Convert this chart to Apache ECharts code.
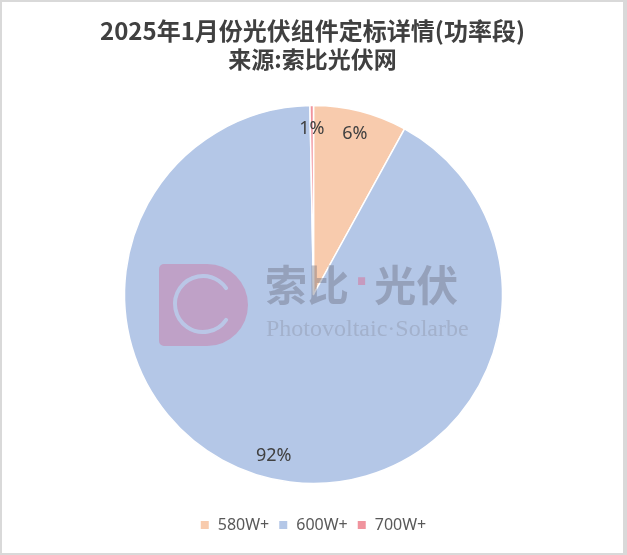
<!DOCTYPE html>
<html>
<head>
<meta charset="utf-8">
<script src="https://cdn.jsdelivr.net/npm/echarts@6/dist/echarts.min.js"></script>
<style>
  html, body { margin: 0; padding: 0; background: #d9d9d9; }
  #chart { position: absolute; left: 2px; top: 2px; width: 621px; height: 551px; background: #ffffff; }
</style>
</head>
<body>
<div id="chart"></div>
<script>
// Data
var categories = ['580W+', '600W+', '700W+'];
var sliceValues = [8.0, 91.7, 0.3];          // slice sizes as drawn
var labelTexts = ['6%', '92%', '1%'];          // percentage labels as printed
var colors = ['#f8cbad', '#b4c7e7', '#f0949e'];
var titleText = '2025年1月份光伏组件定标详情(功率段)';
var subtitleText = '来源:索比光伏网';

var pieData = categories.map(function (c, i) {
  return { name: c, value: sliceValues[i], itemStyle: { color: colors[i] } };
});
var labelData = categories.map(function (c, i) {
  return { name: c, value: sliceValues[i], labelText: labelTexts[i] };
});

var chart = echarts.init(document.getElementById('chart'), null, { renderer: 'canvas' });
var cx = 311.5, cy = 292.5, R = 189;
var wmFill = 'rgba(205,115,160,0.45)';

chart.setOption({
  animation: false,
  title: {
    text: titleText,
    subtext: subtitleText,
    left: 'center',
    top: 12,
    itemGap: 5,
    textStyle: { fontFamily: 'Noto Sans CJK SC', fontSize: 24, fontWeight: 'bold', color: '#404040' },
    subtextStyle: { fontFamily: 'Noto Sans CJK SC', fontSize: 23, fontWeight: 'bold', color: '#404040' }
  },
  legend: {
    data: categories,
    bottom: 15,
    left: 'center',
    itemWidth: 10,
    itemHeight: 10,
    itemGap: 8,
    icon: 'rect',
    textStyle: { fontFamily: 'Noto Sans', fontSize: 16, color: '#595959', padding: [0, 0, 0, 3] }
  },
  series: [
    {
      type: 'pie',
      center: [cx, cy],
      radius: [0, R],
      startAngle: 90,
      clockwise: true,
      data: pieData,
      label: { show: false },
      labelLine: { show: false },
      itemStyle: { borderColor: '#ffffff', borderWidth: 1.5 },
      emphasis: { disabled: true }
    },
    {
      type: 'pie',
      center: [cx, cy],
      radius: [R - 52, R],
      startAngle: 90,
      clockwise: true,
      silent: true,
      legendHoverLink: false,
      data: labelData,
      itemStyle: { color: 'rgba(0,0,0,0)' },
      label: {
        show: true,
        position: 'inside',
        fontFamily: 'Noto Sans',
        fontSize: 18,
        color: '#404040',
        formatter: function (p) { return p.data.labelText; }
      },
      labelLine: { show: false },
      emphasis: { disabled: true },
      z: 3
    }
  ],
  graphic: {
    elements: [
      { type: 'rect', z: 100, silent: true,
        shape: { x: 157, y: 262, width: 89, height: 82, r: [5, 41, 41, 5] },
        style: { fill: wmFill } },
      { type: 'arc', z: 101, silent: true,
        shape: { cx: 201, cy: 302, r: 28, startAngle: 0.6, endAngle: 2 * Math.PI - 0.6, clockwise: true },
        style: { stroke: 'rgba(185,200,232,0.95)', lineWidth: 4, fill: 'none', lineCap: 'round' } },
      { type: 'text', z: 100, silent: true, x: 263, y: 262,
        style: {
          text: '{a|索比}{d|·}{a|光伏}',
          rich: {
            a: { font: 'bold 42px "Noto Sans CJK SC"', fill: 'rgba(100,100,115,0.38)' },
            d: { font: 'bold 40px "DejaVu Sans"', fill: 'rgba(215,110,150,0.5)', padding: [0, 5, 0, 5] }
          }
        } },
      { type: 'text', z: 100, silent: true, x: 264, y: 316,
        style: { text: 'Photovoltaic·Solarbe', font: '24px "Liberation Serif"', fill: 'rgba(110,110,125,0.25)' } }
    ]
  }
});
</script>
</body>
</html>
